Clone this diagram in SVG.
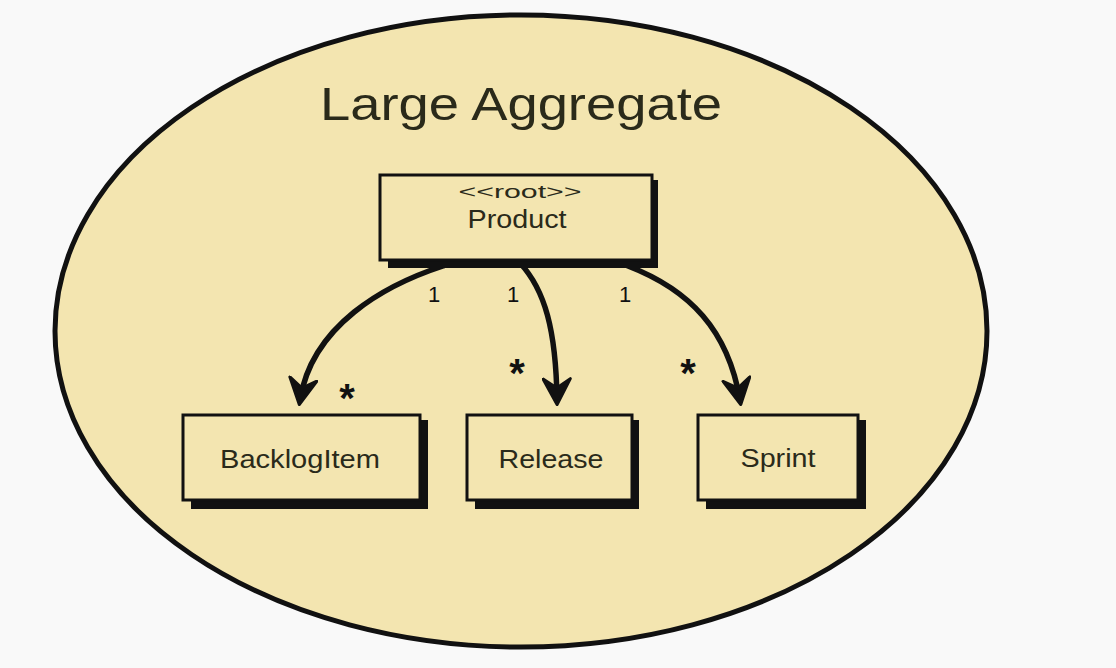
<svg xmlns="http://www.w3.org/2000/svg" width="1116" height="668" viewBox="0 0 1116 668">
<defs>
<style>
.box{fill:#f3e5b0;stroke:#111;stroke-width:3}
.shadow{fill:#111}
.lbl{font-family:"Liberation Sans","DejaVu Sans",sans-serif;fill:#2a2a1a;text-anchor:middle}
.conn{fill:none;stroke:#111;stroke-width:5.5;stroke-linecap:round}
.mult{font-family:"Liberation Sans","DejaVu Sans",sans-serif;fill:#111;text-anchor:middle}
</style>
<marker id="arr" viewBox="0 0 20 20" refX="15" refY="10" markerWidth="5.5" markerHeight="5.5" markerUnits="strokeWidth" orient="auto">
<path d="M1,1 L18,10 L1,19 L7,10 Z" fill="#111" stroke="#111" stroke-width="2" stroke-linejoin="round"/>
</marker>
</defs>
<rect width="1116" height="668" fill="#f9f9f9"/>
<g id="aggregate">
<ellipse cx="521" cy="331" rx="466" ry="316" fill="#f3e5b0" stroke="#111" stroke-width="5"/>
<text x="521" y="120" class="lbl" font-size="46" textLength="402" lengthAdjust="spacingAndGlyphs" fill="#1a1a10">Large Aggregate</text>
</g>
<g id="connectors">
<path class="conn" d="M443,266 C385,285 312,325 300,400" marker-end="url(#arr)"/>
<path class="conn" d="M520,263 C545,290 556,330 557,400" marker-end="url(#arr)"/>
<path class="conn" d="M628,266 C690,290 728,330 740,400" marker-end="url(#arr)"/>
<text class="mult" x="434" y="302" font-size="22">1</text>
<text class="mult" x="513" y="302" font-size="22">1</text>
<text class="mult" x="625" y="302" font-size="22">1</text>
<text class="mult" x="347" y="412" font-size="40" font-weight="bold">*</text>
<text class="mult" x="517" y="387" font-size="40" font-weight="bold">*</text>
<text class="mult" x="688" y="387" font-size="40" font-weight="bold">*</text>
</g>
<g id="product">
<rect class="shadow" x="388" y="180" width="270" height="88"/>
<rect class="box" x="380" y="175" width="272" height="85"/>
<text class="lbl" x="520" y="198" font-size="19" textLength="123" lengthAdjust="spacingAndGlyphs">&lt;&lt;root&gt;&gt;</text>
<text class="lbl" x="517" y="228" font-size="26" textLength="99" lengthAdjust="spacingAndGlyphs">Product</text>
</g>
<g id="backlogitem">
<rect class="shadow" x="191" y="420" width="237" height="89"/>
<rect class="box" x="183" y="415" width="237" height="85"/>
<text class="lbl" x="300" y="468" font-size="25" textLength="160" lengthAdjust="spacingAndGlyphs">BacklogItem</text>
</g>
<g id="release">
<rect class="shadow" x="475" y="420" width="164" height="89"/>
<rect class="box" x="467" y="415" width="165" height="85"/>
<text class="lbl" x="551" y="468" font-size="25" textLength="105" lengthAdjust="spacingAndGlyphs">Release</text>
</g>
<g id="sprint">
<rect class="shadow" x="706" y="420" width="160" height="89"/>
<rect class="box" x="698" y="415" width="160" height="85"/>
<text class="lbl" x="778" y="467" font-size="25" textLength="75" lengthAdjust="spacingAndGlyphs">Sprint</text>
</g>
</svg>
